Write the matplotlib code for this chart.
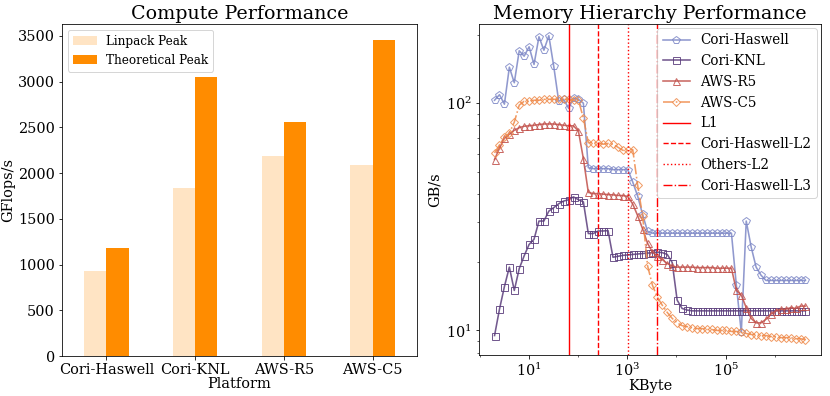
import matplotlib
matplotlib.use("Agg")
import matplotlib.pyplot as plt
import numpy as np
from matplotlib.ticker import FixedLocator, NullFormatter

plt.rcParams["font.family"] = "DejaVu Serif"
plt.rcParams["mathtext.fontset"] = "dejavuserif"

# ── Compute performance (GFlops/s) ────────────────────────────────────────────
platforms   = ["Cori-Haswell", "Cori-KNL", "AWS-R5", "AWS-C5"]
linpack     = [934, 1839, 2182, 2084]
theoretical = [1178, 3046, 2560, 3456]

# ── Memory hierarchy (GB/s vs message size in KB) ─────────────────────────────
kbytes = 2.0 ** (np.arange(3, 67) / 3)   # 2 KB ... 4 GB, 3 points per octave

cori_haswell = [103, 109, 99, 144, 123, 170, 161, 177, 148, 196, 171, 198, 145,
                102, 104, 95, 105, 104, 100,
                52, 51.5, 51.5, 51.5, 51.5, 51, 51, 51, 51,
                45, 39, 32.4, 27.3,
                26.8, 26.8, 26.8, 26.8, 26.8, 26.8, 26.8, 26.8, 26.8,
                26.8, 26.8, 26.8, 26.8, 26.8, 26.8, 26.8, 26.8,
                15.8, 9.8,
                30.3, 23.3, 19, 17.5,
                16.6, 16.6, 16.6, 16.6, 16.6, 16.6, 16.6, 16.6, 16.6]

cori_knl = [9.5, 12.4, 15.6, 19.0, 15.0, 18.7, 21.3, 23.9, 25.2, 30.3, 30.3,
            33.5, 34.7, 36.1, 37.1, 37.6, 38.7, 37.6, 36.8,
            26.7, 26.7, 27.4, 27.4, 27.5,
            21.0, 21.2, 21.4, 21.5, 21.6, 21.7, 21.8, 21.9, 22.0, 22.1, 22.0,
            21.6, 19.9,
            13.6, 12.5, 12.3,
            12.2, 12.2, 12.2, 12.2, 12.2, 12.2, 12.2, 12.2, 12.2, 12.2, 12.2,
            12.2, 12.2, 12.2, 12.2, 12.2, 12.2, 12.2, 12.2, 12.2, 12.2, 12.2,
            12.2, 12.2]

aws_r5 = [56.5, 63.4, 70.1, 73, 76, 78, 79.2, 79.5, 80, 80.5, 81, 81, 81, 80.5,
          80, 79.5, 79.5, 75.3, 57,
          40.5, 40, 40, 39.8, 39.6, 39.5, 39.3, 39.2, 38.9,
          36, 32, 28, 24.2, 22.1, 21.2, 20.5, 19.7, 19.2,
          19.0, 19.0, 19.0, 19.0, 18.9, 18.9, 18.9, 18.9, 18.8, 18.8, 18.8, 18.8,
          15, 14.3, 12.6, 11.3, 10.8, 10.8, 11.2, 11.8, 12.2, 12.4, 12.4, 12.6,
          12.5, 12.8, 12.8]

aws_c5 = [60.4, 65.5, 70.8, 73.8, 82.5, 98, 102, 102, 103, 103, 104, 104, 104,
          104, 104, 104, 103, 103,
          86, 67, 67, 67, 66, 66.5, 66, 64, 62, 62, 62.5,
          43.5, 32, 19.3, 15.8, 14, 12.9, 12, 11.3, 10.8, 10.5,
          10.4, 10.3, 10.2, 10.2, 10.1, 10.1, 10.0, 10.0, 10.0, 9.9, 9.9, 9.8,
          9.7, 9.6, 9.6, 9.5, 9.5, 9.4, 9.4, 9.3, 9.3, 9.3, 9.2, 9.2, 9.1]

cache_kb     = [64, 256, 1024, 4096]
cache_labels = ["L1", "Cori-Haswell-L2", "Others-L2", "Cori-Haswell-L3"]
cache_styles = ["-", "--", ":", "-."]

# ── Figure (72 dpi, so font sizes are in pixels) ──────────────────────────────
W, H = 830, 396
fig = plt.figure(figsize=(W / 72, H / 72), dpi=72)
ax1 = fig.add_axes([62 / W, 1 - 356 / H, 355 / W, 332 / H])
ax2 = fig.add_axes([479 / W, 1 - 355 / H, 342 / W, 331 / H])

TICK_FS, LABEL_FS, TITLE_FS = 14.5, 14.5, 19

# left: bars
x = np.arange(len(platforms))
bw = 0.25
ax1.bar(x - bw / 2, linpack, bw, color="bisque", label="Linpack Peak")
ax1.bar(x + bw / 2, theoretical, bw, color="darkorange", label="Theoretical Peak")
ax1.set_xlim(-0.5, len(platforms) - 0.5)
ax1.set_ylim(0, max(theoretical) * 1.05)
ax1.set_xticks(x)
ax1.set_xticklabels(platforms)
ax1.tick_params(labelsize=TICK_FS)
ax1.set_xlabel("Platform", fontsize=LABEL_FS, labelpad=0)
ax1.set_ylabel("GFlops/s", fontsize=LABEL_FS, labelpad=3)
ax1.set_title("Compute Performance", fontsize=TITLE_FS, pad=5)
ax1.legend(loc="upper left", fontsize=12)

# right: memory bandwidth curves
series = [
    ("Cori-Haswell", cori_haswell, "#7d87c6", "p", "-", 8),
    ("Cori-KNL",     cori_knl,     "#5b3d7c", "s", "-", 7),
    ("AWS-R5",       aws_r5,       "#c1504a", "^", "-", 7),
    ("AWS-C5",       aws_c5,       "#ef8a4a", "D", "-.", 5.5),
]
for name, vals, col, mk, ls, ms in series:
    ax2.plot(kbytes, vals, color=col, marker=mk, ls=ls, lw=1.6, ms=ms,
             mfc="none", mew=1.0, alpha=0.85, label=name)
for kb, lab, ls in zip(cache_kb, cache_labels, cache_styles):
    ax2.axvline(kb, color="red", ls=ls, lw=1.4, label=lab)

ax2.set_xscale("log")
ax2.set_yscale("log")
ax2.set_ylim(7.8, 223)
ax2.xaxis.set_major_locator(FixedLocator([1e1, 1e3, 1e5]))
ax2.xaxis.set_minor_locator(FixedLocator([1e0, 1e2, 1e4, 1e6]))
ax2.xaxis.set_minor_formatter(NullFormatter())
ax2.tick_params(labelsize=TICK_FS)
ax2.set_xlabel("KByte", fontsize=LABEL_FS, labelpad=0)
ax2.set_ylabel("GB/s", fontsize=LABEL_FS)
ax2.set_title("Memory Hierarchy Performance", fontsize=TITLE_FS, pad=5)
ax2.legend(loc="upper right", fontsize=13.5, borderaxespad=0.3)

fig.savefig("out.png", dpi=72)
